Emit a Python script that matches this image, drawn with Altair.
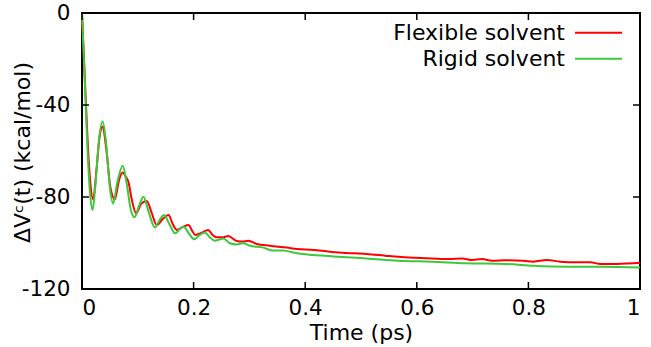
import altair as alt
import pandas as pd

# ---- data ----
time_flex = [0.000, 0.005, 0.010, 0.015, 0.020, 0.026, 0.032, 0.037, 0.043, 0.051,
             0.059, 0.066, 0.073, 0.078, 0.083, 0.090, 0.097, 0.106, 0.116, 0.125,
             0.134, 0.145, 0.155, 0.163, 0.170, 0.181, 0.191, 0.197, 0.203, 0.215,
             0.226, 0.234, 0.241, 0.252, 0.262, 0.277, 0.288, 0.298, 0.313, 0.337,
             0.367, 0.385, 0.415, 0.444, 0.474, 0.510, 0.543, 0.567, 0.597, 0.627,
             0.657, 0.681, 0.699, 0.717, 0.735, 0.759, 0.791, 0.809, 0.833, 0.857,
             0.887, 0.911, 0.929, 0.959, 0.980, 1.000]
v_flex = [0.0, -28.0, -55.0, -74.0, -81.0, -68.0, -53.0, -49.4, -58.0, -76.0,
          -81.0, -73.0, -69.4, -71.0, -73.3, -82.0, -87.1, -83.0, -81.7, -87.0,
          -92.2, -89.5, -87.8, -92.0, -94.3, -93.0, -92.2, -94.5, -96.5, -95.5,
          -94.3, -96.5, -97.5, -97.5, -97.0, -99.1, -99.4, -99.0, -100.4, -101.2,
          -102.0, -102.6, -103.0, -103.8, -104.3, -104.8, -105.5, -106.0, -106.4, -106.7,
          -107.0, -106.7, -107.4, -107.0, -107.7, -107.5, -107.7, -108.1, -107.4, -108.1,
          -108.4, -108.4, -109.1, -109.1, -108.9, -108.6]

time_rigid = [0.000, 0.005, 0.010, 0.015, 0.019, 0.024, 0.030, 0.037, 0.043, 0.050,
              0.056, 0.063, 0.073, 0.080, 0.087, 0.094, 0.102, 0.110, 0.120, 0.131,
              0.139, 0.147, 0.157, 0.167, 0.175, 0.182, 0.192, 0.201, 0.211, 0.220,
              0.229, 0.238, 0.246, 0.253, 0.265, 0.277, 0.289, 0.301, 0.325, 0.342,
              0.360, 0.385, 0.415, 0.444, 0.474, 0.510, 0.567, 0.627, 0.687, 0.759,
              0.809, 0.869, 0.929, 1.000]
v_rigid = [0.0, -30.0, -60.0, -80.0, -85.7, -75.0, -56.0, -47.2, -56.0, -76.0,
           -82.8, -74.0, -66.4, -74.0, -85.0, -88.8, -84.0, -79.9, -87.0, -93.3,
           -90.0, -87.8, -92.0, -95.8, -94.0, -92.9, -96.0, -98.4, -96.5, -95.4,
           -97.5, -99.0, -98.5, -98.0, -100.1, -100.6, -100.1, -101.2, -102.0, -103.3,
           -103.3, -104.5, -105.2, -105.7, -106.2, -106.7, -107.7, -108.1, -108.8, -109.1,
           -109.9, -110.3, -110.3, -110.6]

series_names = ["Flexible solvent", "Rigid solvent"]
series_colors = ["#ff0000", "#3cc83c"]
x_ticks = [0, 0.2, 0.4, 0.6, 0.8, 1]
y_ticks = [0, -40, -80, -120]

df_flex = pd.DataFrame({"t": time_flex, "v": v_flex})
df_rigid = pd.DataFrame({"t": time_rigid, "v": v_rigid})
df_xt = pd.DataFrame({"t": x_ticks})
df_yt = pd.DataFrame({"v": y_ticks})

W, H = 558, 276
FONT = "DejaVu Sans"
FS_LAB = 21.5
FS = 22

xs = alt.Scale(domain=[0, 1], nice=False, zero=False)
ys = alt.Scale(domain=[-120, 0], nice=False, zero=False)

xaxis = alt.Axis(values=x_ticks, labelExpr="'' + datum.value", title="Time (ps)",
                 labelPadding=8, titleY=50.5, titleBaseline="alphabetic")
yaxis = alt.Axis(values=y_ticks, labelExpr="'' + datum.value", title="ΔVᶜ(t) (kcal/mol)",
                 labelPadding=12, titleX=-53, titleY=H / 2 + 1, titleBaseline="alphabetic")

X = alt.X("t:Q", scale=xs, axis=xaxis)
Y = alt.Y("v:Q", scale=ys, axis=yaxis)

line_flex = alt.Chart(df_flex).mark_line(
    color=series_colors[0], strokeWidth=2, interpolate="monotone"
).encode(x=X, y=Y)

line_rigid = alt.Chart(df_rigid).mark_line(
    color=series_colors[1], strokeWidth=2, interpolate="monotone"
).encode(x=X, y=Y)

TL = 7
tick_style = dict(color="black", strokeWidth=1.5)
tb = alt.Chart(df_xt).mark_rule(**tick_style).encode(
    x=X, y=alt.value(H - TL), y2=alt.value(H))
tt = alt.Chart(df_xt).mark_rule(**tick_style).encode(
    x=X, y=alt.value(0), y2=alt.value(TL))
tl = alt.Chart(df_yt).mark_rule(**tick_style).encode(
    y=Y, x=alt.value(0), x2=alt.value(TL))
tr = alt.Chart(df_yt).mark_rule(**tick_style).encode(
    y=Y, x=alt.value(W - TL), x2=alt.value(W))

# legend (gnuplot style: label then line sample)
leg_layers = []
for i, (name, col) in enumerate(zip(series_names, series_colors)):
    d = pd.DataFrame({"label": [name]})
    ly = 19.7 + 26 * i
    txt = alt.Chart(d).mark_text(align="right", baseline="alphabetic", font=FONT,
                                 fontSize=FS, color="black").encode(
        text="label:N", x=alt.value(483), y=alt.value(ly + 7.5))
    smp = alt.Chart(d).mark_rule(color=col, strokeWidth=2).encode(
        x=alt.value(493), x2=alt.value(540), y=alt.value(ly))
    leg_layers += [txt, smp]

chart = alt.layer(line_flex, line_rigid, tb, tt, tl, tr, *leg_layers).properties(
    width=W, height=H, autosize="none",
    padding={"left": 82, "top": 13, "right": 11, "bottom": 58},
).configure_view(stroke="black", strokeWidth=2).configure_axis(
    labelFont=FONT, labelFontSize=FS_LAB, labelColor="black",
    titleFont=FONT, titleFontSize=FS, titleFontWeight="normal", titleColor="black",
    domain=False, ticks=False, tickSize=0, grid=False,
)

chart.save("out.html", embed_options={"renderer": "svg", "actions": False})
